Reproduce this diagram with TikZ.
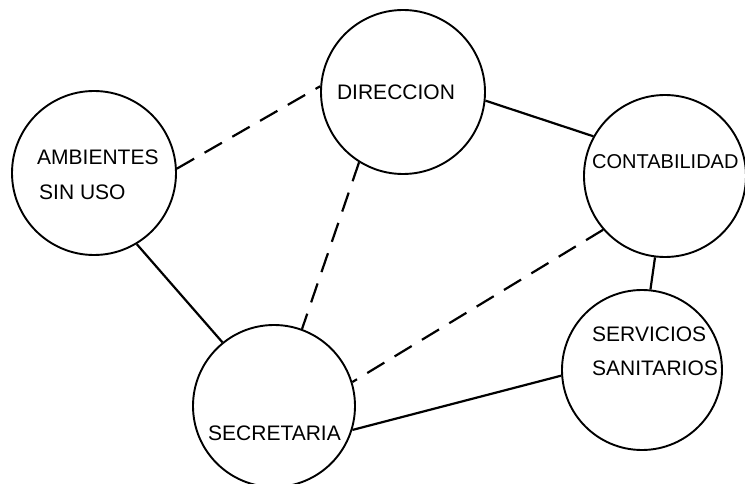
\documentclass[tikz,border=0pt]{standalone}
\usepackage{fontspec}
\setmainfont{Liberation Sans}
\begin{document}
\begin{tikzpicture}[x=1pt,y=-1pt,
  room/.style={circle,draw=black,line width=1.9pt,inner sep=0pt},
  lbl/.style={inner sep=0pt,font=\fontsize{21}{25}\selectfont},
  link/.style={line width=2.2pt},
  weak/.style={line width=2.2pt,dash pattern=on 20pt off 12pt}]
\useasboundingbox[fill=white] (0,0) rectangle (745,484);
% rooms
\node[room,minimum size=164pt] (amb)  at (94,173)  {};
\node[room,minimum size=164pt] (dir)  at (403,92)  {};
\node[room,minimum size=162pt] (cont) at (665,176) {};
\node[room,minimum size=162pt] (sec)  at (274,406) {};
\node[room,minimum size=160pt] (serv) at (642,370) {};
% labels
\node[lbl,anchor=west] (ambt1) at (37,157) {AMBIENTES};
\node[lbl,anchor=west] (ambt2) at (39,192) {SIN USO};
\node[lbl] (dirt) at (396,92) {DIRECCION};
\node[lbl,anchor=west,font=\fontsize{20}{24}\selectfont] (contt) at (592,162) {CONTABILIDAD};
\node[lbl,anchor=west] (sect) at (208,433) {SECRETARIA};
\node[lbl,anchor=west] (servt1) at (592,334) {SERVICIOS};
\node[lbl,anchor=west] (servt2) at (592,368) {SANITARIOS};
% connectors
\draw[weak] (amb.3) -- (dir.176);
\draw[link] (amb.301) -- (sec.129);
\draw[weak] (dir.238) -- (sec.70);
\draw[link] (dir.-6) -- (cont.151);
\draw[weak] (cont.221) -- (sec.17);
\draw[link] (cont.263) -- (serv.84);
\draw[link] (sec.343) -- (serv.184);
\end{tikzpicture}
\end{document}
